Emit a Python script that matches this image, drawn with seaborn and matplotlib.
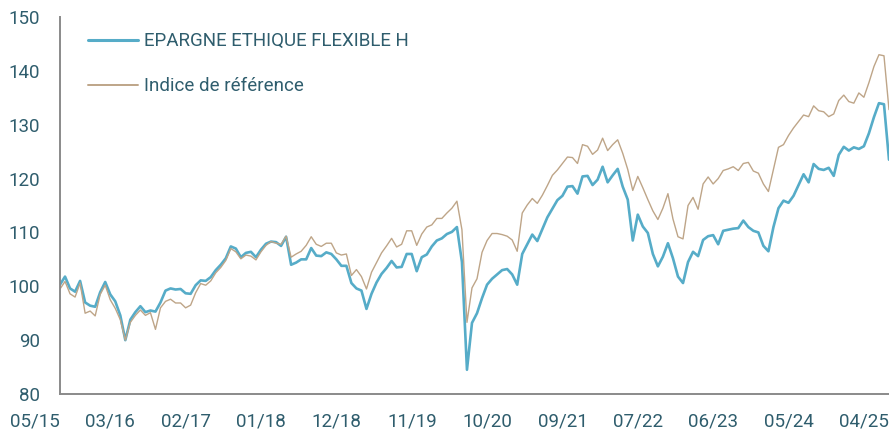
import numpy as np
import pandas as pd
import seaborn as sns
import matplotlib.pyplot as plt


## DONNEES (base 100 en 05/15)
tick_labels = ["05/15", "03/16", "02/17", "01/18", "12/18", "11/19",
               "10/20", "09/21", "07/22", "06/23", "05/24", "04/25"]

fonds = [
    100.3, 101.8, 99.6, 99.0, 101.0, 97.0, 96.4, 96.2, 98.9, 100.8,
    98.5, 97.2, 94.6, 90.0, 93.8, 95.2, 96.3, 95.2, 95.5, 95.3,
    97.0, 99.2, 99.6, 99.4, 99.5, 98.7, 98.6, 100.2, 101.1, 101.0,
    101.7, 103.0, 104.0, 105.2, 107.4, 107.0, 105.4, 106.2, 106.4, 105.4,
    106.8, 107.9, 108.3, 108.2, 107.5, 109.2, 104.0, 104.4, 105.0, 105.0,
    107.1, 105.7, 105.6, 106.3, 106.0, 105.0, 103.8, 103.8, 100.6, 99.6,
    99.2, 95.8, 98.6, 100.7, 102.3, 103.4, 104.7, 103.5, 103.6, 106.0,
    106.0, 102.8, 105.4, 105.9, 107.4, 108.5, 108.9, 109.7, 110.1, 111.0,
    104.5, 84.5, 93.2, 95.0, 97.8, 100.3, 101.4, 102.2, 103.0, 103.2,
    102.2, 100.3, 106.0, 107.8, 109.6, 108.4, 110.6, 112.8, 114.4, 116.0,
    116.8, 118.5, 118.6, 117.2, 120.4, 120.5, 118.8, 119.8, 122.2, 119.3,
    120.6, 121.8, 118.5, 116.1, 108.5, 113.3, 111.1, 109.9, 106.0, 103.7,
    105.5, 108.0, 105.2, 101.8, 100.6, 104.5, 106.4, 105.6, 108.6, 109.3,
    109.5, 107.8, 110.3, 110.5, 110.7, 110.8, 112.2, 111.0, 110.3, 110.0,
    107.5, 106.5, 111.0, 114.5, 115.9, 115.5, 116.8, 118.8, 120.8, 119.3,
    122.7, 121.8, 121.6, 122.0, 120.5, 124.4, 125.9, 125.2, 125.8, 125.5,
    126.0, 128.4, 131.4, 134.0, 133.8, 123.5,
]

indice = [
    99.5, 100.9, 98.6, 98.0, 100.6, 95.0, 95.4, 94.5, 98.5, 100.2,
    97.5, 95.9, 93.8, 90.0, 93.3, 94.6, 95.6, 94.6, 95.1, 92.0,
    96.0, 97.2, 97.6, 96.9, 96.9, 96.0, 96.5, 98.8, 100.5, 100.2,
    101.0, 102.5, 103.5, 104.8, 107.0, 106.4, 105.1, 105.8, 105.6, 104.9,
    106.4, 107.6, 108.3, 108.0, 107.8, 109.3, 105.4, 106.0, 106.5, 107.6,
    109.2, 107.8, 107.4, 108.0, 108.0, 106.2, 105.8, 106.0, 102.0, 103.1,
    101.8, 99.5, 102.6, 104.4, 106.2, 107.5, 108.9, 107.3, 107.8, 110.3,
    110.3, 107.6, 109.7, 111.0, 111.4, 112.6, 112.6, 113.6, 114.5, 115.8,
    110.5, 93.3, 99.7, 101.4, 106.3, 108.5, 109.8, 109.8, 109.6, 109.3,
    108.6, 106.5, 113.6, 115.1, 116.3, 115.4, 116.9, 118.7, 120.6, 121.6,
    122.8, 124.0, 123.9, 122.8, 126.3, 126.0, 124.5, 125.3, 127.5, 125.2,
    126.3, 127.2, 124.7, 121.7, 117.8, 120.4, 118.3, 116.1, 114.0, 112.4,
    114.5, 117.2, 112.5, 109.2, 108.8, 115.0, 116.5, 114.3, 119.0, 120.3,
    119.0, 120.0, 121.5, 121.8, 122.2, 121.5, 122.8, 123.0, 121.4, 121.0,
    119.0, 117.6, 121.7, 125.8, 126.3, 128.0, 129.4, 130.6, 131.8, 131.5,
    133.5, 132.6, 132.4, 131.5, 132.0, 134.5, 135.5, 134.3, 134.0, 135.9,
    135.1, 137.8, 140.8, 143.0, 142.8, 132.8,
]

nom_fonds = "EPARGNE ETHIQUE FLEXIBLE H"
nom_indice = "Indice de référence"


## MAIN
pas = 15  # points entre deux graduations
x = np.arange(len(fonds))
tableau = pd.DataFrame({
    "x": np.concatenate([x, x]),
    "valeur": fonds + indice,
    "serie": [nom_fonds] * len(fonds) + [nom_indice] * len(indice),
})

sns.set_style("white")
plt.rcParams["font.family"] = ["Roboto", "DejaVu Sans"]

couleur_texte = "#2f5d6d"
couleur_axe = "#8a8a8a"

fig = plt.figure(figsize=(8.89, 4.37), dpi=100)
ax = fig.add_axes([60 / 889, 43 / 437, 829 / 889, 377 / 437])

sns.lineplot(data=tableau, x="x", y="valeur", hue="serie", size="serie",
             hue_order=[nom_fonds, nom_indice],
             palette={nom_fonds: "#56acc8", nom_indice: "#bea588"},
             sizes={nom_fonds: 1.9, nom_indice: 1.0},
             legend=False, ax=ax)

ax.set_xlim(0, len(fonds) - 1)
ax.set_ylim(80, 150)
ax.set_xticks(np.arange(0, len(fonds), pas))
ax.set_xticklabels(tick_labels, ha="right")
ax.set_yticks(np.arange(80, 151, 10))
ax.set(xlabel="", ylabel="")

for side in ["top", "right"]:
    ax.spines[side].set_visible(False)
for side in ["left", "bottom"]:
    ax.spines[side].set_color(couleur_axe)
    ax.spines[side].set_linewidth(1.4)

ax.tick_params(axis="both", direction="inout", length=11, width=1.3,
               color=couleur_axe, labelcolor=couleur_texte, labelsize=13.5)
ax.tick_params(axis="y", pad=9)
ax.tick_params(axis="x", pad=8)

leg = ax.legend(ax.lines[:2], [nom_fonds, nom_indice], loc="upper left",
                bbox_to_anchor=(0.034, 0.96), frameon=False, fontsize=13.5,
                handlelength=2.65, handletextpad=0.35, labelspacing=1.45,
                borderpad=0, borderaxespad=0)
for t in leg.get_texts():
    t.set_color(couleur_texte)
leg.get_lines()[0].set_linewidth(2.2)
leg.get_lines()[1].set_linewidth(1.4)

plt.savefig("out.png", dpi=100)
